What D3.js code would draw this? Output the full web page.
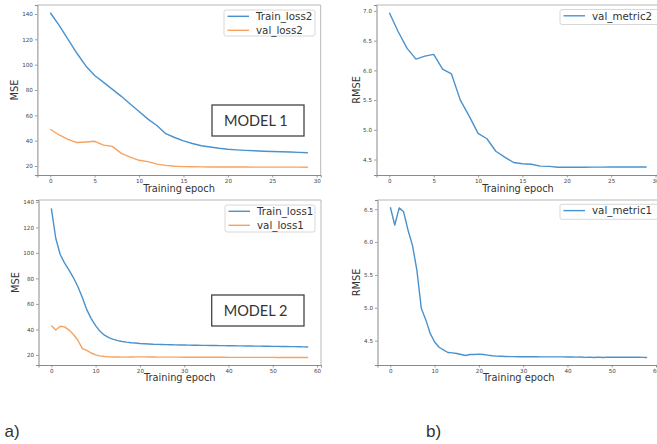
<!DOCTYPE html>
<html lang="en">
<head>
    <meta charset="UTF-8">
    <title>Training curves - Model 1 / Model 2</title>
    <script src="https://d3js.org/d3.v7.min.js"></script>
    <style>
        body { margin: 0; padding: 0; background: #fff; }
        svg { display: block; }
        .tick-label { font-family: "DejaVu Sans", sans-serif; font-size: 5.6px; fill: #444; }
        .axis-label { font-family: "DejaVu Sans", sans-serif; font-size: 9.8px; fill: #333; }
        .legend-text { font-family: "DejaVu Sans", sans-serif; font-size: 10.3px; fill: #333; }
        .model-text { font-family: Lato, "Liberation Sans", sans-serif; font-size: 14.5px; fill: #333; }
        .panel-tag { font-family: "Liberation Sans", Arial, sans-serif; font-size: 17px; fill: #333; }
    </style>
</head>
<body>
<div id="chart"></div>
<script>
    // ---- data ----
    const trainLoss2 = [141, 131, 120, 109, 99, 91.5, 86, 80.5, 75, 69,
        63, 57, 52, 45.5, 42.5, 39.8, 37.8, 36, 35, 34,
        33.2, 32.7, 32.3, 32, 31.7, 31.4, 31.2, 31, 30.8, 30.5];
    const valLoss2 = [49, 44.5, 41, 38.5, 39, 39.5, 36.5, 35.5, 30, 27,
        24.5, 23.5, 21.5, 20.5, 19.8, 19.5, 19.4, 19.3, 19.2, 19.2,
        19.2, 19.2, 19.2, 19.1, 19.1, 19.1, 19.1, 19.1, 19.1, 19];
    const valMetric2 = [6.97, 6.65, 6.37, 6.19, 6.24, 6.27, 6.02, 5.94, 5.5, 5.23,
        4.94, 4.85, 4.64, 4.54, 4.45, 4.43, 4.42, 4.39, 4.385, 4.37,
        4.37, 4.37, 4.37, 4.372, 4.373, 4.374, 4.375, 4.375, 4.375, 4.375];

    const trainLoss1 = [135, 111.5, 98.8, 92, 86.5, 80.5, 73.5, 65, 55.5, 48.5,
        43, 38.5, 35.5, 33.5, 32.2, 31.2, 30.5, 30, 29.6, 29.3,
        29, 28.8, 28.6, 28.4, 28.3, 28.2, 28.1, 28, 27.9, 27.8,
        27.8, 27.7, 27.6, 27.6, 27.5, 27.5, 27.4, 27.4, 27.3, 27.3,
        27.2, 27.2, 27.1, 27.1, 27, 27, 26.9, 26.9, 26.8, 26.8,
        26.7, 26.7, 26.6, 26.6, 26.5, 26.5, 26.4, 26.3, 26.2];
    const valLoss1 = [43, 39.5, 42.5, 42, 39.5, 36, 31.5, 25, 23.5, 21.5,
        20, 19.3, 18.8, 18.5, 18.4, 18.4, 18.3, 18.3, 18.4, 18.5,
        18.5, 18.5, 18.4, 18.4, 18.3, 18.3, 18.3, 18.3, 18.3, 18.3,
        18.2, 18.2, 18.2, 18.2, 18.2, 18.2, 18.2, 18.2, 18.2, 18.2,
        18.1, 18.1, 18.1, 18.1, 18.1, 18.1, 18.1, 18.1, 18.1, 18.1,
        18.1, 18, 18, 18, 18, 18, 18, 18, 18];
    const valMetric1 = [6.53, 6.26, 6.52, 6.46, 6.18, 5.95, 5.57, 4.99, 4.82, 4.61,
        4.48, 4.4, 4.36, 4.32, 4.315, 4.305, 4.29, 4.275, 4.29, 4.29,
        4.295, 4.29, 4.28, 4.27, 4.265, 4.262, 4.26, 4.258, 4.257, 4.256,
        4.256, 4.255, 4.255, 4.255, 4.254, 4.254, 4.254, 4.253, 4.253, 4.253,
        4.252, 4.252, 4.25, 4.252, 4.246, 4.25, 4.244, 4.25, 4.245, 4.25,
        4.248, 4.249, 4.248, 4.249, 4.247, 4.248, 4.247, 4.246, 4.245];

    const ticksX30 = [0, 5, 10, 15, 20, 25, 30];
    const ticksX60 = [0, 10, 20, 30, 40, 50, 60];
    const ticksLoss = [20, 40, 60, 80, 100, 120, 140];
    const ticksMetric2 = [4.5, 5.0, 5.5, 6.0, 6.5, 7.0];
    const ticksMetric1 = [4.5, 5.0, 5.5, 6.0, 6.5];

    const blue = "#4a92cd";
    const orange = "#f7a25e";

    const width = 657, height = 444;
    const svg = d3.select("#chart").append("svg")
        .attr("width", width)
        .attr("height", height);

    function drawPanel(p) {
        const x = d3.scaleLinear().domain(p.xDomain).range([p.left, p.right]);
        const y = d3.scaleLinear().domain(p.yDomain).range([p.bottom, p.top]);
        const g = svg.append("g");

        // spines
        g.append("line").attr("x1", p.left).attr("x2", p.right).attr("y1", p.top).attr("y2", p.top)
            .attr("stroke", "#b8b8b8").attr("stroke-width", 1);
        g.append("line").attr("x1", p.right).attr("x2", p.right).attr("y1", p.top).attr("y2", p.bottom)
            .attr("stroke", "#b8b8b8").attr("stroke-width", 1);

        const xAxis = g.append("g")
            .attr("transform", `translate(0,${p.bottom})`)
            .call(d3.axisBottom(x).tickValues(p.xTicks).tickSize(2.5).tickPadding(2).tickFormat(d3.format("d")));
        const yAxis = g.append("g")
            .attr("transform", `translate(${p.left},0)`)
            .call(d3.axisLeft(y).tickValues(p.yTicks).tickSize(2.5).tickPadding(2).tickFormat(p.yFormat));
        [xAxis, yAxis].forEach(a => {
            a.select(".domain").attr("stroke", "#8a8a8a").attr("stroke-width", 1);
            a.selectAll(".tick line").attr("stroke", "#777").attr("stroke-width", 0.7);
            a.selectAll(".tick text").attr("class", "tick-label").attr("fill", null);
        });

        // lines
        const line = d3.line().x((d, i) => x(i)).y(d => y(d));
        p.series.forEach(s => {
            g.append("path").datum(s.values)
                .attr("fill", "none")
                .attr("stroke", s.color)
                .attr("stroke-width", 1.4)
                .attr("stroke-linejoin", "round")
                .attr("d", line);
        });

        // axis labels
        g.append("text").attr("class", "axis-label")
            .attr("transform", `translate(${p.ylabelX},${(p.top + p.bottom) / 2}) rotate(-90)`)
            .attr("text-anchor", "middle").attr("dy", "0.35em")
            .text(p.ylabel);
        g.append("text").attr("class", "axis-label")
            .attr("x", (p.left + p.right) / 2).attr("y", p.xlabelY)
            .attr("text-anchor", "middle")
            .text("Training epoch");

        // legend
        const lg = p.legend;
        g.append("rect").attr("x", lg.x).attr("y", lg.y).attr("width", lg.w).attr("height", lg.h)
            .attr("rx", 2).attr("fill", "#fff").attr("stroke", "#d4d4d4").attr("stroke-width", 0.9);
        p.series.forEach((s, i) => {
            const ly = lg.y + 6.3 + i * 14;
            g.append("line").attr("x1", lg.x + 3.5).attr("x2", lg.x + 25).attr("y1", ly).attr("y2", ly)
                .attr("stroke", s.color).attr("stroke-width", 1.4);
            g.append("text").attr("class", "legend-text")
                .attr("x", lg.x + 32).attr("y", ly).attr("dy", "0.36em")
                .text(s.name);
        });

        // model box
        if (p.model) {
            const m = p.model;
            g.append("rect").attr("x", m.x).attr("y", m.y).attr("width", m.w).attr("height", m.h)
                .attr("fill", "#fff").attr("stroke", "#444").attr("stroke-width", 1.3);
            g.append("text").attr("class", "model-text")
                .attr("x", m.x + 12).attr("y", m.y + 21)
                .text(m.text);
        }
    }

    drawPanel({
        left: 37.4, right: 320.7, top: 5, bottom: 175,
        xDomain: [-1.45, 30.45], yDomain: [12.9, 147.1],
        xTicks: ticksX30, yTicks: ticksLoss, yFormat: d3.format("d"),
        ylabel: "MSE", ylabelX: 15, xlabelY: 192,
        series: [
            { name: "Train_loss2", values: trainLoss2, color: blue },
            { name: "val_loss2", values: valLoss2, color: orange }
        ],
        legend: { x: 224, y: 10, w: 91, h: 26 },
        model: { x: 212, y: 105, w: 92, h: 31, text: "MODEL 1" }
    });

    drawPanel({
        left: 376.5, right: 659.5, top: 5, bottom: 175,
        xDomain: [-1.45, 30.45], yDomain: [4.24, 7.10],
        xTicks: ticksX30, yTicks: ticksMetric2, yFormat: d3.format(".1f"),
        ylabel: "RMSE", ylabelX: 357, xlabelY: 192,
        series: [
            { name: "val_metric2", values: valMetric2, color: blue }
        ],
        legend: { x: 560, y: 9.5, w: 100, h: 15 }
    });

    drawPanel({
        left: 38.5, right: 321, top: 200, bottom: 365,
        xDomain: [-2.9, 60.9], yDomain: [12.1, 141.5],
        xTicks: ticksX60, yTicks: ticksLoss, yFormat: d3.format("d"),
        ylabel: "MSE", ylabelX: 16, xlabelY: 381,
        series: [
            { name: "Train_loss1", values: trainLoss1, color: blue },
            { name: "val_loss1", values: valLoss1, color: orange }
        ],
        legend: { x: 225, y: 205, w: 90, h: 27 },
        model: { x: 211.7, y: 295, w: 92.3, h: 31, text: "MODEL 2" }
    });

    drawPanel({
        left: 377.5, right: 660, top: 200, bottom: 365,
        xDomain: [-2.9, 60.9], yDomain: [4.13, 6.64],
        xTicks: ticksX60, yTicks: ticksMetric1, yFormat: d3.format(".1f"),
        ylabel: "RMSE", ylabelX: 357, xlabelY: 381,
        series: [
            { name: "val_metric1", values: valMetric1, color: blue }
        ],
        legend: { x: 560, y: 204.3, w: 100, h: 15 }
    });

    // panel tags
    svg.append("text").attr("class", "panel-tag").attr("x", 4.5).attr("y", 437).text("a)");
    svg.append("text").attr("class", "panel-tag").attr("x", 426).attr("y", 437).text("b)");
</script>
</body>
</html>
